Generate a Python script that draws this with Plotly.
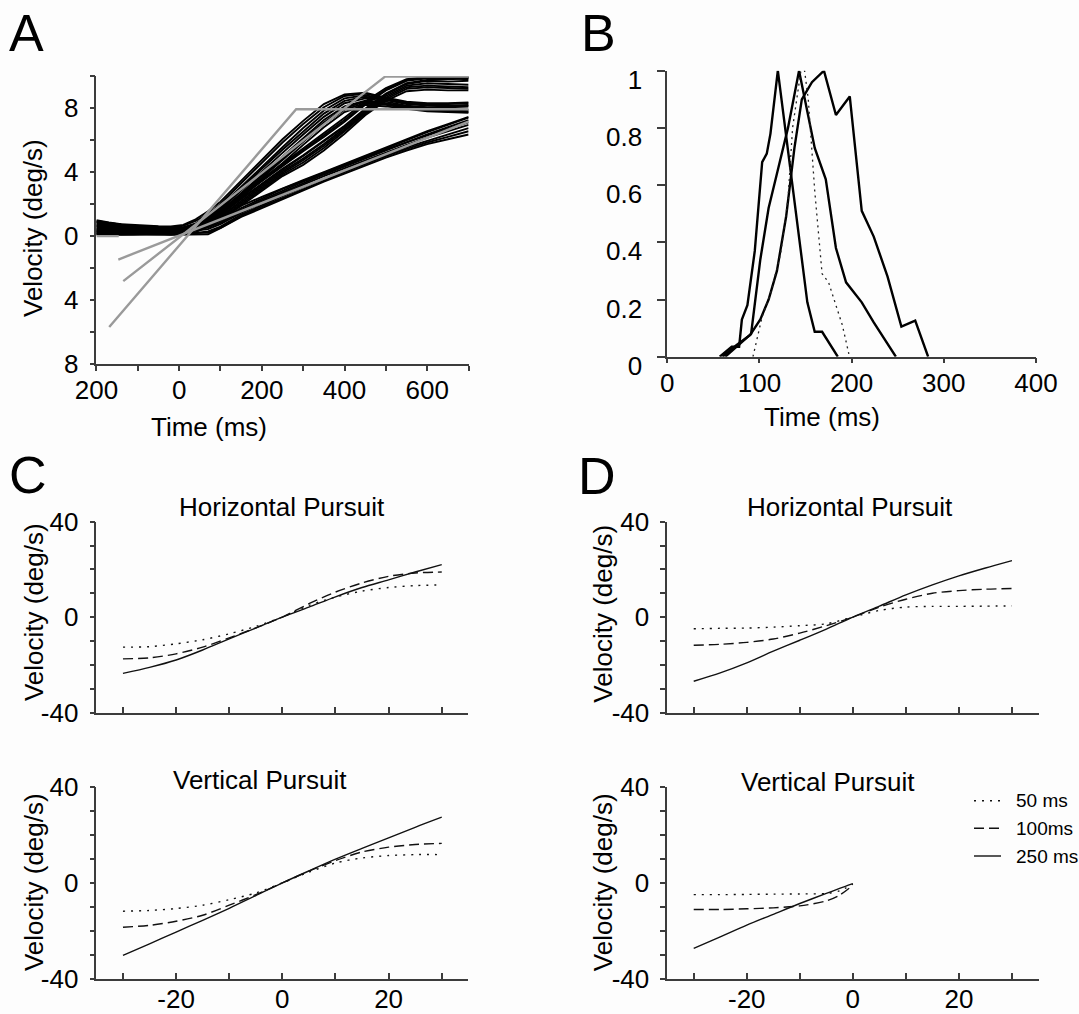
import plotly.graph_objects as go

W, H = 1079, 1014
FONT = "Liberation Sans, Arial, Helvetica, sans-serif"
INK = "#111111"
AXIS = "#3c3c3c"
BG = "#fdfdfd"

# ---------------- Panel A: eye velocity traces (deg/s) at sample times (ms)
t_ms = [-200, -170, -140, -110, -80, -50, -20, 10, 40, 70, 100, 150, 200,
        250, 300, 350, 400, 450, 500, 550, 600, 650, 700]

ramp10_traces = [
    [0.10, 0.12, 0.08, 0.10, 0.09, 0.11, 0.08, 0.10, 0.09, 0.12, 0.50, 1.20, 1.75, 2.30, 2.90, 3.40, 3.90, 4.40, 4.90, 5.35, 5.75, 6.05, 6.35],
    [0.55, 0.48, 0.42, 0.45, 0.40, 0.38, 0.35, 0.33, 0.40, 0.55, 0.85, 1.55, 2.15, 2.75, 3.30, 3.85, 4.35, 4.85, 5.40, 5.90, 6.35, 6.80, 7.25],
    [0.30, 0.35, 0.28, 0.25, 0.30, 0.27, 0.22, 0.25, 0.20, 0.30, 0.60, 1.35, 1.95, 2.50, 3.05, 3.60, 4.10, 4.60, 5.10, 5.55, 5.95, 6.35, 6.75],
    [0.80, 0.70, 0.62, 0.58, 0.55, 0.50, 0.48, 0.45, 0.55, 0.70, 1.00, 1.75, 2.35, 2.95, 3.45, 3.95, 4.45, 4.95, 5.50, 6.00, 6.50, 6.95, 7.40],
    [0.20, 0.18, 0.22, 0.16, 0.18, 0.15, 0.14, 0.16, 0.18, 0.22, 0.52, 1.25, 1.85, 2.40, 2.95, 3.50, 4.00, 4.50, 5.00, 5.45, 5.85, 6.20, 6.55],
    [0.65, 0.60, 0.55, 0.50, 0.48, 0.46, 0.42, 0.40, 0.48, 0.62, 0.95, 1.65, 2.25, 2.85, 3.40, 3.90, 4.40, 4.90, 5.40, 5.85, 6.30, 6.70, 7.10],
    [0.42, 0.40, 0.36, 0.38, 0.34, 0.33, 0.30, 0.30, 0.35, 0.45, 0.75, 1.45, 2.05, 2.65, 3.20, 3.75, 4.25, 4.75, 5.25, 5.70, 6.15, 6.55, 6.95],
    [0.90, 0.78, 0.70, 0.62, 0.60, 0.55, 0.52, 0.50, 0.62, 0.80, 1.15, 1.90, 2.45, 3.00, 3.50, 4.00, 4.50, 5.00, 5.55, 6.05, 6.55, 7.00, 7.45],
]

ramp20_traces = [
    [0.25, 0.30, 0.22, 0.26, 0.20, 0.24, 0.18, 0.22, 0.35, 0.75, 1.10, 2.00, 2.95, 3.85, 4.60, 5.50, 6.55, 7.65, 8.55, 9.20, 9.30, 9.25, 9.20],
    [0.60, 0.55, 0.50, 0.52, 0.45, 0.42, 0.40, 0.38, 0.55, 0.95, 1.40, 2.35, 3.30, 4.20, 5.05, 5.95, 6.90, 7.95, 8.90, 9.55, 9.75, 9.80, 9.85],
    [0.15, 0.14, 0.12, 0.15, 0.12, 0.10, 0.12, 0.14, 0.25, 0.60, 1.00, 1.90, 2.85, 3.75, 4.45, 5.35, 6.40, 7.55, 8.45, 9.05, 9.15, 9.10, 9.10],
    [0.75, 0.68, 0.60, 0.58, 0.55, 0.52, 0.50, 0.48, 0.62, 1.05, 1.50, 2.50, 3.45, 4.40, 5.30, 6.20, 7.15, 8.20, 9.10, 9.70, 9.85, 9.90, 9.90],
    [0.40, 0.45, 0.38, 0.35, 0.36, 0.32, 0.30, 0.28, 0.45, 0.85, 1.25, 2.20, 3.15, 4.05, 4.85, 5.75, 6.75, 7.80, 8.75, 9.40, 9.55, 9.50, 9.45],
    [0.95, 0.82, 0.72, 0.66, 0.62, 0.58, 0.55, 0.55, 0.70, 1.15, 1.60, 2.60, 3.55, 4.50, 5.45, 6.40, 7.40, 8.40, 9.25, 9.80, 9.95, 9.95, 9.92],
    [0.32, 0.28, 0.30, 0.24, 0.26, 0.22, 0.20, 0.20, 0.40, 0.80, 1.20, 2.10, 3.05, 3.95, 4.75, 5.65, 6.65, 7.70, 8.65, 9.30, 9.40, 9.35, 9.30],
    [0.50, 0.52, 0.45, 0.44, 0.40, 0.38, 0.36, 0.35, 0.50, 0.90, 1.35, 2.30, 3.25, 4.15, 5.00, 5.90, 6.85, 7.90, 8.85, 9.50, 9.70, 9.65, 9.70],
    [0.85, 0.75, 0.66, 0.62, 0.58, 0.55, 0.52, 0.50, 0.66, 1.10, 1.55, 2.55, 3.50, 4.45, 5.35, 6.30, 7.25, 8.30, 9.15, 9.75, 9.90, 9.85, 9.80],
]

ramp30_traces = [
    [0.35, 0.32, 0.30, 0.28, 0.25, 0.24, 0.22, 0.30, 0.55, 1.00, 1.55, 2.70, 3.85, 5.00, 6.15, 7.25, 8.10, 8.45, 8.30, 8.10, 8.00, 7.95, 7.90],
    [0.70, 0.62, 0.58, 0.55, 0.50, 0.48, 0.45, 0.55, 0.80, 1.25, 1.85, 3.10, 4.35, 5.55, 6.75, 7.85, 8.60, 8.80, 8.55, 8.30, 8.20, 8.15, 8.20],
    [0.18, 0.20, 0.16, 0.18, 0.15, 0.14, 0.16, 0.22, 0.45, 0.90, 1.40, 2.50, 3.60, 4.75, 5.90, 7.00, 7.90, 8.30, 8.20, 8.00, 7.85, 7.80, 7.75],
    [0.88, 0.80, 0.70, 0.65, 0.60, 0.56, 0.55, 0.65, 0.95, 1.40, 2.00, 3.30, 4.60, 5.85, 7.00, 8.05, 8.75, 8.90, 8.60, 8.35, 8.25, 8.25, 8.30],
    [0.45, 0.50, 0.42, 0.40, 0.38, 0.35, 0.32, 0.40, 0.65, 1.10, 1.65, 2.85, 4.05, 5.20, 6.35, 7.45, 8.30, 8.60, 8.40, 8.15, 8.05, 8.05, 8.10],
    [0.28, 0.25, 0.26, 0.22, 0.24, 0.20, 0.20, 0.28, 0.50, 0.95, 1.50, 2.60, 3.70, 4.85, 6.00, 7.10, 8.00, 8.40, 8.25, 8.05, 7.90, 7.85, 7.80],
    [0.62, 0.58, 0.52, 0.50, 0.46, 0.44, 0.42, 0.50, 0.75, 1.20, 1.75, 3.00, 4.20, 5.40, 6.55, 7.65, 8.45, 8.70, 8.50, 8.25, 8.15, 8.10, 8.15],
    [1.00, 0.85, 0.75, 0.70, 0.65, 0.62, 0.60, 0.70, 1.05, 1.55, 2.15, 3.45, 4.80, 6.05, 7.20, 8.25, 8.85, 8.95, 8.65, 8.40, 8.30, 8.30, 8.35],
    [0.12, 0.10, 0.12, 0.10, 0.11, 0.10, 0.10, 0.18, 0.40, 0.80, 1.30, 2.40, 3.45, 4.55, 5.70, 6.80, 7.75, 8.20, 8.10, 7.95, 7.80, 7.75, 7.70],
]

# target velocity (gray) for the three ramp conditions
target_base_t, target_base_v = [-200, -146], [0.0, 0.0]
target10_t, target10_v = [-147, 700], [-1.46, 7.15]
target20_t, target20_v = [-135, 498, 700], [-2.81, 9.96, 9.96]
target30_t, target30_v = [-169, 283, 700], [-5.67, 7.92, 7.92]

a_xticks = [-200, -100, 0, 100, 200, 300, 400, 500, 600, 700]
a_xtext = ["200", "", "0", "", "200", "", "400", "", "600", ""]
a_yticks = [-8, -6, -4, -2, 0, 2, 4, 6, 8, 10]
a_ytext = ["8", "", "4", "", "0", "", "4", "", "8", ""]

# ---------------- Panel B: normalised latency distributions
b1_t = [57, 70, 78, 81, 87, 95, 103, 108, 112, 120, 152, 160, 168, 185]
b1_p = [0, 0.035, 0.035, 0.13, 0.18, 0.37, 0.68, 0.71, 0.78, 1.0, 0.19, 0.087, 0.087, 0]
b2_t = [63, 91, 101, 110, 119, 131, 143, 151, 160, 172, 183, 194, 211, 224, 248]
b2_p = [0, 0.08, 0.34, 0.52, 0.64, 0.80, 1.0, 0.87, 0.73, 0.62, 0.38, 0.26, 0.19, 0.12, 0]
b3_t = [60, 75, 90, 101, 110, 119, 129, 138, 146, 157, 170, 183, 198, 211, 224, 239, 254, 269, 283]
b3_p = [0, 0.04, 0.076, 0.13, 0.2, 0.3, 0.49, 0.73, 0.9, 0.96, 1.0, 0.845, 0.91, 0.51, 0.42, 0.28, 0.105, 0.126, 0]
bd_t = [93, 103, 112, 123, 131, 136, 145, 149, 153, 160, 168, 175, 190, 197]
bd_p = [0, 0.14, 0.22, 0.36, 0.55, 0.80, 1.0, 1.0, 0.90, 0.58, 0.29, 0.26, 0.11, 0.01]

b_xticks = [0, 100, 200, 300, 400]
b_yticks = [0, 0.2, 0.4, 0.6, 0.8, 1]
b_ytext = ["0", "0.2", "0.4", "0.6", "0.8", "1"]

# ---------------- Panels C and D: velocity vs position (deg, deg/s)
pos_deg = [-30, -25, -20, -15, -10, -5, 0, 5, 10, 15, 20, 25, 30]
c_h_50 = [-12.6, -12.4, -11.2, -9.5, -7.0, -3.9, 0, 4.9, 8.4, 10.9, 12.4, 13.2, 13.5]
c_h_100 = [-17.5, -17.1, -15.4, -12.6, -8.7, -4.5, 0, 5.6, 10.5, 14.3, 17.1, 18.5, 18.9]
c_h_250 = [-23.6, -21.1, -18.0, -13.8, -9.1, -4.6, 0, 4.2, 8.5, 12.4, 15.6, 18.9, 22.0]

c_v_50 = [-11.8, -11.5, -10.7, -9.3, -7.0, -4.2, 0, 4.5, 8.3, 10.4, 11.4, 11.8, 11.8]
c_v_100 = [-18.5, -17.7, -16.0, -13.5, -9.3, -4.9, 0, 4.9, 9.3, 12.9, 14.9, 16.0, 16.5]
c_v_250 = [-30.2, -25.4, -20.5, -15.6, -10.6, -5.3, 0, 5.0, 9.9, 14.4, 18.8, 23.2, 27.4]

d_h_50 = [-4.9, -4.7, -4.6, -4.2, -3.6, -2.8, 0, 2.8, 4.2, 4.5, 4.5, 4.6, 4.7]
d_h_100 = [-11.8, -11.4, -10.6, -9.2, -6.7, -3.6, 0, 4.2, 7.5, 10.0, 11.1, 11.7, 12.0]
d_h_250 = [-26.9, -23.4, -19.2, -14.3, -9.7, -5.0, 0, 4.6, 9.3, 13.5, 17.3, 20.6, 23.7]

pos_neg = [-30, -25, -20, -15, -10, -5, -2.5, 0]
d_v_50 = [-4.9, -4.9, -4.8, -4.7, -4.6, -4.4, -3.3, -0.5]
d_v_100 = [-11.1, -11.1, -10.8, -10.4, -9.6, -7.5, -5.1, -1.0]
d_v_250 = [-27.3, -22.5, -17.6, -13.1, -8.6, -4.4, -2.3, -0.3]

cd_xticks = [-30, -20, -10, 0, 10, 20, 30]
cd_xtext = ["", "-20", "", "0", "", "20", ""]
cd_yticks = [-40, -30, -20, -10, 0, 10, 20, 30, 40]
cd_ytext = ["-40", "", "", "", "0", "", "", "", "40"]

delays = ["50 ms", "100ms", "250 ms"]
dashes = ["2px,6px", "10px,5px", "solid"]


def fx(px):
    return px / W


def fy(py):
    return 1 - py / H


fig = go.Figure()

# Panel A traces
for group in (ramp10_traces, ramp20_traces, ramp30_traces):
    for v in group:
        fig.add_trace(go.Scatter(x=t_ms, y=v, mode="lines", xaxis="x", yaxis="y",
                                 line=dict(color="#000000", width=1.9),
                                 showlegend=False, hoverinfo="skip"))
for tt, vv in ((target_base_t, target_base_v), (target10_t, target10_v),
               (target20_t, target20_v), (target30_t, target30_v)):
    fig.add_trace(go.Scatter(x=tt, y=vv, mode="lines", xaxis="x", yaxis="y",
                             line=dict(color="#9a9a9a", width=2.4),
                             showlegend=False, hoverinfo="skip"))

# Panel B traces
for tt, pp in ((b1_t, b1_p), (b2_t, b2_p), (b3_t, b3_p)):
    fig.add_trace(go.Scatter(x=tt, y=pp, mode="lines", xaxis="x2", yaxis="y2",
                             line=dict(color="#000000", width=2.4),
                             showlegend=False, hoverinfo="skip"))
fig.add_trace(go.Scatter(x=bd_t, y=bd_p, mode="lines", xaxis="x2", yaxis="y2",
                         line=dict(color="#222222", width=1.3, dash="2px,4px"),
                         showlegend=False, hoverinfo="skip"))

# Panels C and D
panel_series = [
    ("x3", "y3", pos_deg, (c_h_50, c_h_100, c_h_250)),
    ("x4", "y4", pos_deg, (d_h_50, d_h_100, d_h_250)),
    ("x5", "y5", pos_deg, (c_v_50, c_v_100, c_v_250)),
    ("x6", "y6", pos_neg, (d_v_50, d_v_100, d_v_250)),
]
for xa, ya, xs, series in panel_series:
    for name, dash, ys in zip(delays, dashes, series):
        fig.add_trace(go.Scatter(x=xs, y=ys, mode="lines", xaxis=xa, yaxis=ya,
                                 name=name, showlegend=False,
                                 line=dict(color=INK, width=1.4, dash=dash,
                                           shape="spline", smoothing=0.8),
                                 hoverinfo="skip"))

tickfont = dict(family=FONT, size=26, color="#000000")
common = dict(showgrid=False, zeroline=False, showline=True, linecolor=AXIS,
              linewidth=1.5, ticks="outside", tickcolor=AXIS, tickwidth=1.5,
              ticklen=5, tickfont=tickfont, tickmode="array", fixedrange=True,
              automargin=False)

layout = dict(
    width=W, height=H, margin=dict(l=0, r=0, t=0, b=0, autoexpand=False),
    paper_bgcolor=BG, plot_bgcolor=BG, showlegend=False,
    font=dict(family=FONT, color="#000000"),
    xaxis=dict(common, domain=[fx(96.4), fx(468.6)], range=[-200, 700],
               tickvals=a_xticks, ticktext=a_xtext, anchor="y",
               ticklabelstandoff=-3),
    yaxis=dict(common, domain=[fy(364.3), fy(76)], range=[-8, 10],
               tickvals=a_yticks, ticktext=a_ytext, anchor="x",
               ticklabelstandoff=6),
    xaxis2=dict(common, domain=[fx(667.2), fx(1036)], range=[0, 400],
                tickvals=b_xticks, anchor="y2", ticklen=5,
                ticklabelstandoff=-3),
    yaxis2=dict(common, domain=[fy(356.7), fy(70.7)], range=[0, 1],
                tickvals=b_yticks, ticktext=b_ytext, anchor="x2", ticklen=8,
                ticklabelstandoff=10, ticklabelshift=9),
)

cd_x = dict(common, range=[-35, 35], tickvals=cd_xticks, ticktext=cd_xtext,
            ticks="inside", ticklen=6, ticklabelstandoff=-4)
cd_y = dict(common, range=[-40, 40], tickvals=cd_yticks, ticktext=cd_ytext,
            ticklabelstandoff=6)
row_top = [fy(712.5), fy(521.7)]
row_bot = [fy(978.8), fy(787.0)]
col_c = [fx(96.4), fx(468.3)]
col_d = [fx(667.2), fx(1038.5)]
layout["xaxis3"] = dict(cd_x, domain=col_c, anchor="y3", showticklabels=False)
layout["yaxis3"] = dict(cd_y, domain=row_top, anchor="x3")
layout["xaxis4"] = dict(cd_x, domain=col_d, anchor="y4", showticklabels=False)
layout["yaxis4"] = dict(cd_y, domain=row_top, anchor="x4")
layout["xaxis5"] = dict(cd_x, domain=col_c, anchor="y5")
layout["yaxis5"] = dict(cd_y, domain=row_bot, anchor="x5")
layout["xaxis6"] = dict(cd_x, domain=col_d, anchor="y6")
layout["yaxis6"] = dict(cd_y, domain=row_bot, anchor="x6")

fig.update_layout(**layout)


def label(text, x, y, size=26, angle=0, anchor="center"):
    fig.add_annotation(text=text, x=fx(x), y=fy(y), xref="paper", yref="paper",
                       xanchor=anchor, yanchor="middle", showarrow=False,
                       textangle=angle,
                       font=dict(family=FONT, size=size, color="#000000"))


# key for the three delay conditions (line samples + labels)
key_rows = [800.7, 828.3, 856.0]
for name, dash, ky in zip(delays, dashes, key_rows):
    fig.add_shape(type="line", xref="paper", yref="paper",
                  x0=fx(974), x1=fx(1001), y0=fy(ky), y1=fy(ky),
                  line=dict(color=INK, width=1.4, dash=dash))
    label(name, 1013.5, ky, size=19, anchor="left")

# panel letters
label("A", 26.7, 33, size=52)
label("B", 598.5, 33, size=52)
label("C", 28.4, 475, size=52)
label("D", 596.8, 476, size=52)

# axis titles
label("Time (ms)", 209.2, 426.7)
label("Time (ms)", 822, 416.7)
label("Velocity (deg/s)", 33, 228, angle=-90)
label("Velocity (deg/s)", 33.6, 612.5, angle=-90)
label("Velocity (deg/s)", 33.6, 882.5, angle=-90)
label("Velocity (deg/s)", 602.7, 614, angle=-90)
label("Velocity (deg/s)", 602.7, 882.5, angle=-90)

# subplot titles
label("Horizontal Pursuit", 282.4, 506.7)
label("Horizontal Pursuit", 849.7, 506.7)
label("Vertical Pursuit", 259.8, 780)
label("Vertical Pursuit", 828, 781.7)

fig.write_html("out.html")
